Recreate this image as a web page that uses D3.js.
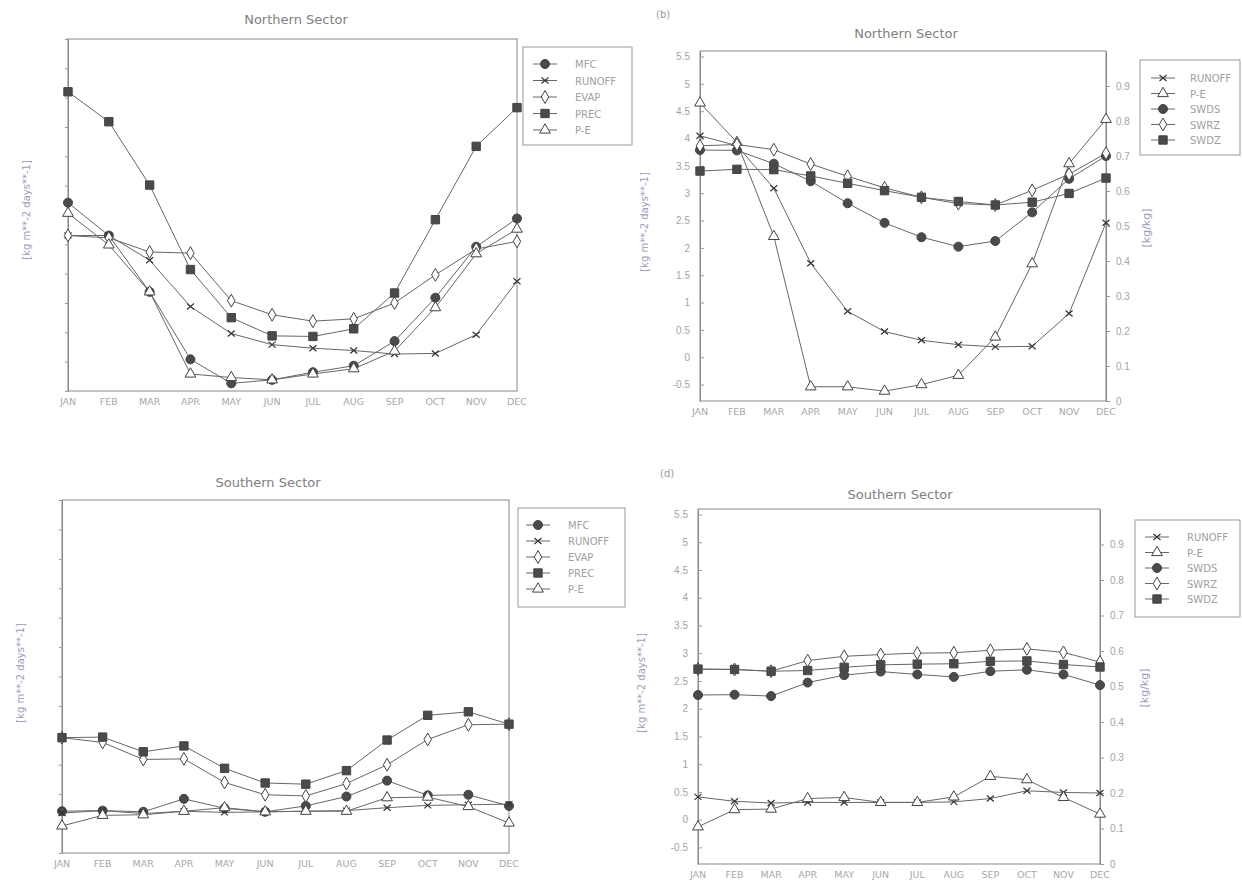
<!DOCTYPE html>
<html>
<head>
<meta charset="utf-8">
<script src="https://cdn.jsdelivr.net/npm/d3@7"></script>
<style>
  body { margin: 0; background: #fff; }
  svg { font-family: "DejaVu Sans", sans-serif; }
  .tick text { fill: #a4a4a4; font-size: 10px; }
  .tick line { stroke: #999; }
  .domain { stroke: #888; }
</style>
</head>
<body>
<svg width="1242" height="884"></svg>
<script>
var months = ["JAN","FEB","MAR","APR","MAY","JUN","JUL","AUG","SEP","OCT","NOV","DEC"];

// tick labels
var fluxTicks = [-0.5,0,0.5,1,1.5,2,2.5,3,3.5,4,4.5,5,5.5];
var wetTicks = [0,0.1,0.2,0.3,0.4,0.5,0.6,0.7,0.8,0.9];

// (a) northern sector, budget terms
var nMFC    = [2.71,2.15,1.19,0.04,-0.37,-0.31,-0.18,-0.07,0.35,1.09,1.96,2.44];
var nRUNOFF = [2.15,2.15,1.73,0.94,0.48,0.29,0.23,0.19,0.13,0.14,0.46,1.37];
var nEVAP   = [2.15,2.11,1.87,1.85,1.04,0.80,0.69,0.73,1.00,1.48,1.92,2.05];
var nPREC   = [4.60,4.09,3.01,1.57,0.75,0.44,0.43,0.56,1.17,2.42,3.67,4.33];
var nPE     = [2.53,1.99,1.19,-0.21,-0.27,-0.31,-0.21,-0.12,0.18,0.92,1.84,2.26];

// (b) northern sector, runoff / P-E and soil wetness
var nbRUNOFF = [4.05,3.87,3.09,1.72,0.84,0.47,0.31,0.23,0.19,0.20,0.80,2.46];
var nbPE     = [4.65,3.93,2.21,-0.54,-0.54,-0.62,-0.50,-0.33,0.37,1.71,3.54,4.35];
var nbSWDS   = [0.717,0.716,0.678,0.628,0.565,0.509,0.468,0.441,0.457,0.539,0.635,0.700];
var nbSWRZ   = [0.729,0.733,0.718,0.677,0.642,0.609,0.582,0.564,0.560,0.602,0.648,0.708];
var nbSWDZ   = [0.657,0.662,0.661,0.643,0.622,0.601,0.582,0.570,0.560,0.568,0.593,0.637];

// (c) southern sector, budget terms
var sMFC    = [0.21,0.22,0.20,0.42,0.26,0.20,0.30,0.46,0.73,0.48,0.49,0.30];
var sRUNOFF = [0.18,0.22,0.17,0.21,0.19,0.20,0.21,0.22,0.27,0.31,0.32,0.33];
var sEVAP   = [1.46,1.38,1.09,1.10,0.70,0.49,0.47,0.68,1.00,1.43,1.68,1.69];
var sPREC   = [1.46,1.47,1.22,1.32,0.94,0.69,0.67,0.90,1.42,1.84,1.90,1.69];
var sPE     = [-0.04,0.14,0.15,0.21,0.27,0.20,0.21,0.21,0.44,0.45,0.29,0.01];

// (d) southern sector, runoff / P-E and soil wetness
var sdRUNOFF = [0.41,0.33,0.30,0.31,0.31,0.31,0.31,0.32,0.38,0.52,0.49,0.48];
var sdPE     = [-0.13,0.18,0.19,0.38,0.40,0.31,0.31,0.41,0.78,0.72,0.40,0.10];
var sdSWDS   = [0.476,0.477,0.473,0.511,0.532,0.542,0.534,0.527,0.543,0.547,0.534,0.504];
var sdSWRZ   = [0.549,0.548,0.543,0.573,0.585,0.590,0.594,0.595,0.602,0.606,0.596,0.569];
var sdSWDZ   = [0.549,0.548,0.543,0.545,0.554,0.561,0.563,0.564,0.571,0.572,0.562,0.555];

var svg = d3.select("svg");
var lineCol = "#666", fillCol = "#4a4a4a";

// marker drawing, shape name -> svg
function marker(g, shape, x, y) {
    if (shape == "cross") {
        g.append("path")
            .attr("d", "M" + (x-3.5) + "," + (y-3) + "L" + (x+3.5) + "," + (y+3) +
                       "M" + (x-3.5) + "," + (y+3) + "L" + (x+3.5) + "," + (y-3))
            .attr("stroke", "#333").attr("stroke-width", 1.2);
        return;
    }
    var sym = {circle: d3.symbolCircle, square: d3.symbolSquare,
               diamond: d3.symbolDiamond, triangle: d3.symbolTriangle}[shape];
    var size = {circle: 64, square: 70, diamond: 48, triangle: 50}[shape];
    var filled = (shape == "circle" || shape == "square");
    g.append("path")
        .attr("d", d3.symbol().type(sym).size(size)())
        .attr("transform", "translate(" + x + "," + y + ")")
        .attr("fill", filled ? fillCol : "#fff")
        .attr("stroke", "#444").attr("stroke-width", 1);
}

function panel(cfg) {
    var g = svg.append("g");
    var x = d3.scalePoint().domain(months).range([cfg.left, cfg.right]);
    var yL = d3.scaleLinear().domain(cfg.leftDomain).range([cfg.bottom, cfg.top]);
    var yR = d3.scaleLinear().domain([0, 1]).range([cfg.bottom, cfg.top]);

    // frame
    g.append("rect")
        .attr("x", cfg.left).attr("y", cfg.top)
        .attr("width", cfg.right - cfg.left).attr("height", cfg.bottom - cfg.top)
        .attr("fill", "none").attr("stroke", "#888").attr("stroke-width", 1);

    // left axis
    var la = d3.axisLeft(yL).tickValues(fluxTicks).tickSize(cfg.showLeft ? -4 : 3).tickSizeOuter(0)
        .tickFormat(function(d) { return cfg.showLeft ? String(d) : ""; });
    g.append("g").attr("transform", "translate(" + cfg.left + ",0)").call(la)
        .call(function(s) { s.selectAll("text").attr("x", -10); });

    if (cfg.right2) {
        var ra = d3.axisRight(yR).tickValues(wetTicks).tickSize(4).tickSizeOuter(0)
            .tickFormat(function(d) { return String(d); });
        g.append("g").attr("transform", "translate(" + cfg.right + ",0)").call(ra)
            .call(function(s) { s.selectAll("text").attr("x", 10); });
        g.append("text")
            .attr("transform", "translate(" + cfg.rtX + "," + cfg.rtY + ") rotate(-90)")
            .attr("text-anchor", "middle").attr("font-size", 11).attr("fill", "#9c9cc0")
            .text("[kg/kg]");
    }

    // month labels
    g.selectAll(".mon").data(months).enter().append("text")
        .attr("x", function(d) { return x(d); })
        .attr("y", cfg.bottom + 14)
        .attr("text-anchor", "middle").attr("font-size", 9.5).attr("fill", "#a8a8a8")
        .text(function(d) { return d; });

    // title
    g.append("text").attr("x", cfg.titleX).attr("y", cfg.titleY)
        .attr("text-anchor", "middle").attr("font-size", 13).attr("fill", "#808080")
        .text(cfg.title);
    if (cfg.tag) {
        g.append("text").attr("x", cfg.tagX).attr("y", cfg.tagY)
            .attr("font-size", 10).attr("fill", "#999").text(cfg.tag);
    }

    // y title
    g.append("text")
        .attr("transform", "translate(" + cfg.ltX + "," + cfg.ltY + ") rotate(-90)")
        .attr("text-anchor", "middle").attr("font-size", 10).attr("fill", "#9c9cc0")
        .text("[kg m**-2 days**-1]");

    // series
    cfg.series.forEach(function(s) {
        var y = s.axis == "right" ? yR : yL;
        var line = d3.line()
            .x(function(d, i) { return x(months[i]); })
            .y(function(d) { return y(d); });
        g.append("path").datum(s.values).attr("d", line)
            .attr("fill", "none").attr("stroke", lineCol).attr("stroke-width", 1);
    });
    cfg.series.forEach(function(s) {
        var y = s.axis == "right" ? yR : yL;
        s.values.forEach(function(v, i) { marker(g, s.shape, x(months[i]), y(v)); });
    });

    // legend
    var lg = cfg.legend;
    g.append("rect").attr("x", lg.x).attr("y", lg.y).attr("width", lg.w).attr("height", lg.h)
        .attr("fill", "#fff").attr("stroke", "#999");
    cfg.legendOrder.forEach(function(name, i) {
        var s = cfg.series.filter(function(t) { return t.name == name; })[0];
        var yy = lg.y + lg.first + i * lg.step;
        g.append("line").attr("x1", lg.mx - 12).attr("x2", lg.mx + 12)
            .attr("y1", yy).attr("y2", yy).attr("stroke", lineCol);
        marker(g, s.shape, lg.mx, yy);
        g.append("text").attr("x", lg.tx).attr("y", yy + 4)
            .attr("font-size", 10).attr("fill", "#a0a0a0").text(name);
    });
}

panel({
    left: 68, right: 517, top: 39, bottom: 391, leftDomain: [-0.5, 5.5], showLeft: false,
    title: "Northern Sector", titleX: 296, titleY: 24, ltX: 30, ltY: 210,
    series: [
        {name: "MFC", shape: "circle", values: nMFC},
        {name: "RUNOFF", shape: "cross", values: nRUNOFF},
        {name: "EVAP", shape: "diamond", values: nEVAP},
        {name: "PREC", shape: "square", values: nPREC},
        {name: "P-E", shape: "triangle", values: nPE}
    ],
    legendOrder: ["MFC", "RUNOFF", "EVAP", "PREC", "P-E"],
    legend: {x: 523, y: 47, w: 109, h: 98, first: 17, step: 16.5, mx: 545, tx: 575}
});

panel({
    left: 700, right: 1106, top: 51, bottom: 401, leftDomain: [-0.8, 5.6], showLeft: true, right2: true,
    title: "Northern Sector", titleX: 906, titleY: 38, tag: "(b)", tagX: 656, tagY: 18,
    ltX: 648, ltY: 222, rtX: 1150, rtY: 228,
    series: [
        {name: "RUNOFF", shape: "cross", values: nbRUNOFF},
        {name: "P-E", shape: "triangle", values: nbPE},
        {name: "SWDS", shape: "circle", values: nbSWDS, axis: "right"},
        {name: "SWRZ", shape: "diamond", values: nbSWRZ, axis: "right"},
        {name: "SWDZ", shape: "square", values: nbSWDZ, axis: "right"}
    ],
    legendOrder: ["RUNOFF", "P-E", "SWDS", "SWRZ", "SWDZ"],
    legend: {x: 1140, y: 60, w: 100, h: 95, first: 18, step: 15.5, mx: 1163, tx: 1190}
});

panel({
    left: 62, right: 509, top: 500, bottom: 853, leftDomain: [-0.5, 5.5], showLeft: false,
    title: "Southern Sector", titleX: 268, titleY: 487, ltX: 24, ltY: 673,
    series: [
        {name: "MFC", shape: "circle", values: sMFC},
        {name: "RUNOFF", shape: "cross", values: sRUNOFF},
        {name: "EVAP", shape: "diamond", values: sEVAP},
        {name: "PREC", shape: "square", values: sPREC},
        {name: "P-E", shape: "triangle", values: sPE}
    ],
    legendOrder: ["MFC", "RUNOFF", "EVAP", "PREC", "P-E"],
    legend: {x: 518, y: 508, w: 107, h: 99, first: 17, step: 16, mx: 538, tx: 568}
});

panel({
    left: 698, right: 1100, top: 509, bottom: 864, leftDomain: [-0.8, 5.6], showLeft: true, right2: true,
    title: "Southern Sector", titleX: 900, titleY: 499, tag: "(d)", tagX: 660, tagY: 477,
    ltX: 645, ltY: 683, rtX: 1148, rtY: 688,
    series: [
        {name: "RUNOFF", shape: "cross", values: sdRUNOFF},
        {name: "P-E", shape: "triangle", values: sdPE},
        {name: "SWDS", shape: "circle", values: sdSWDS, axis: "right"},
        {name: "SWRZ", shape: "diamond", values: sdSWRZ, axis: "right"},
        {name: "SWDZ", shape: "square", values: sdSWDZ, axis: "right"}
    ],
    legendOrder: ["RUNOFF", "P-E", "SWDS", "SWRZ", "SWDZ"],
    legend: {x: 1135, y: 520, w: 105, h: 97, first: 17, step: 15.5, mx: 1157, tx: 1187}
});
</script>
</body>
</html>
